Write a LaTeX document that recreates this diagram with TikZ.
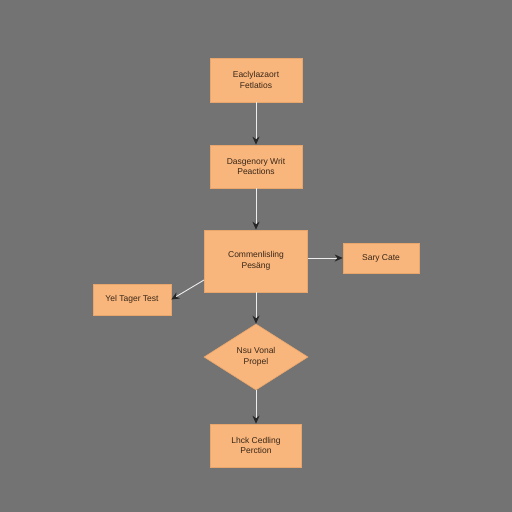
\documentclass[tikz,border=0pt]{standalone}
\usepackage{fontspec}
\setmainfont{Liberation Sans}
\usetikzlibrary{arrows.meta,shapes.geometric}
\definecolor{bg}{HTML}{737373}
\definecolor{peach}{HTML}{F8B67D}
\definecolor{peachedge}{HTML}{E9A66C}
\definecolor{txt}{HTML}{3A2616}
\definecolor{linec}{HTML}{EDEDED}
\tikzset{
  box/.style={rectangle, draw=peachedge, line width=0.6pt, fill=peach, text=txt, font=\fontsize{8.5}{10.5}\selectfont, align=center, inner sep=0pt},
  dia/.style={diamond, draw=peachedge, line width=0.6pt, fill=peach, text=txt, font=\fontsize{8.5}{10.5}\selectfont, align=center, inner sep=0pt, aspect=1.6},
  conn/.style={draw=linec, line width=0.9pt, -{Stealth[length=8pt,width=7pt,color=black!85]}}
}
\begin{document}
\begin{tikzpicture}[x=1pt,y=-1pt]
\fill[bg] (0,0) rectangle (512,512);
\useasboundingbox (0,0) rectangle (512,512);
\node[box, minimum width=92pt, minimum height=44pt] (b1) at (256,80) {Eaclylazaort\\Fetlatios};
\node[box, minimum width=92pt, minimum height=43pt] (b2) at (256,166.5) {Dasgenory Writ\\Peactions};
\node[box, minimum width=103pt, minimum height=62pt] (b3) at (256,261) {Commenlisling\\Pesäng};
\node[box, minimum width=76pt, minimum height=30pt] (r) at (381,258) {Sary Cate};
\node[box, minimum width=78pt, minimum height=31pt] (l) at (132,299.5) {Yel Tager Test};
\node[dia, minimum width=104pt, minimum height=66pt] (d) at (256,357) {Nsu Vonal\\Propel};
\node[box, minimum width=91pt, minimum height=43pt] (b4) at (256,445.5) {Lhck Cedling\\Perction};
\draw[conn] (b1.south) -- (b2.north);
\draw[conn] (b2.south) -- (b3.north);
\draw[conn] (b3.east |- r.west) -- (r.west);
\coordinate (lstart) at (204,280);
\draw[conn] (lstart) -- (l.east);
\draw[conn] (b3.south) -- (d.north);
\draw[conn] (d.south) -- (b4.north);
\end{tikzpicture}
\end{document}
